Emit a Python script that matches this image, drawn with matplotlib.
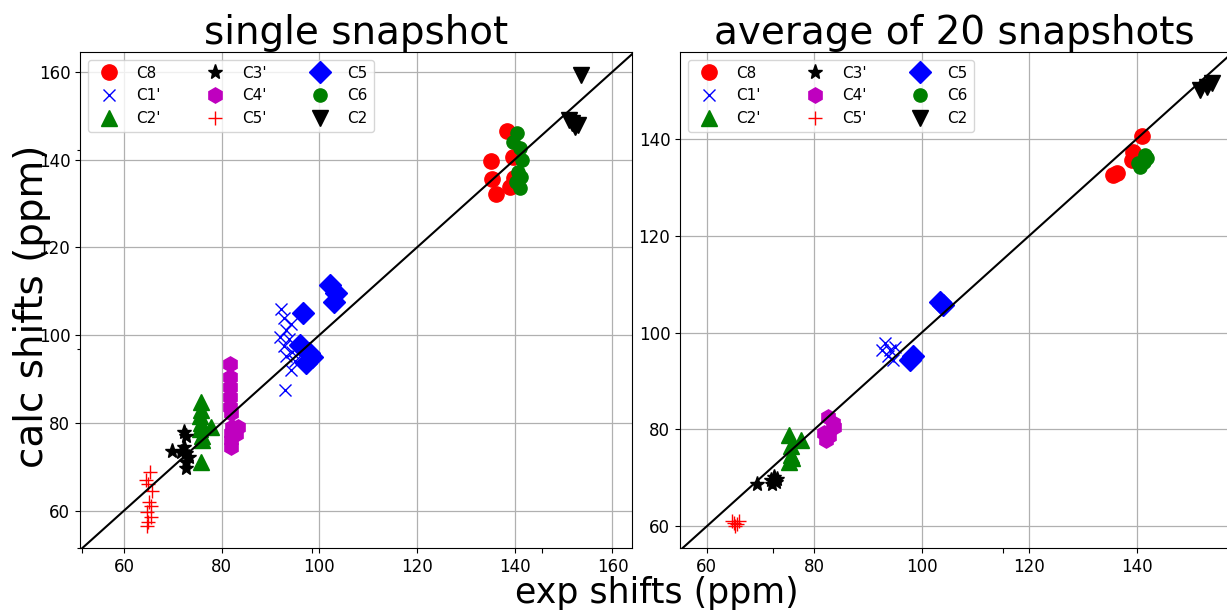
import numpy as np
import matplotlib.pyplot as plt

labels = ["C8", "C1'", "C2'", "C3'", "C4'", "C5'", "C5", "C6", "C2"]
markers = ['o', 'x', '^', '*', 'h', '+', 'D', 'o', 'v']
colors = ['r', 'b', 'g', 'k', 'm', 'r', 'b', 'g', 'k']
sizes = [11, 9, 11, 11, 11, 10, 11, 9.5, 11]

# single snapshot: experimental / calculated shifts (ppm)
c8_exp_1 = [138.4, 135.1, 135.3, 136.1, 139.0, 139.8, 139.6]
c8_calc_1 = [146.6, 139.7, 135.6, 132.2, 133.8, 135.9, 140.6]
c1p_exp_1 = [92.2, 92.7, 94.1, 93.1, 92.0, 93.7, 92.7, 94.3, 93.1, 95.1, 94.1, 92.9]
c1p_calc_1 = [106.0, 104.0, 102.6, 101.2, 99.6, 99.0, 97.6, 96.2, 95.3, 94.0, 92.1, 87.6]
c2p_exp_1 = [75.7, 75.7, 75.5, 75.7, 75.5, 75.9, 77.8, 75.7, 76.0]
c2p_calc_1 = [84.8, 83.0, 81.5, 80.0, 78.5, 77.0, 79.0, 71.0, 76.0]
c3p_exp_1 = [72.2, 72.7, 69.8, 72.2, 72.7, 73.3, 72.7, 72.7, 71.6]
c3p_calc_1 = [78.0, 76.9, 73.7, 74.6, 73.2, 72.3, 71.2, 69.8, 73.4]
c4p_exp_1 = [81.8, 81.8, 81.8, 81.8, 81.8, 82.0, 82.1, 83.3, 82.0, 83.0, 82.0, 81.9]
c4p_calc_1 = [93.3, 90.5, 88.2, 86.0, 83.7, 82.3, 79.1, 79.0, 77.8, 77.5, 76.2, 74.6]
c5p_exp_1 = [65.3, 64.5, 65.0, 65.8, 65.2, 65.6, 64.8, 65.6, 65.0, 64.7]
c5p_calc_1 = [68.9, 67.0, 66.0, 64.5, 62.0, 61.0, 59.8, 58.6, 57.5, 56.4]
c5_exp_1 = [102.2, 103.5, 102.9, 96.7, 96.1, 97.8, 97.3, 98.4]
c5_calc_1 = [111.5, 109.7, 107.6, 105.1, 97.8, 96.0, 93.7, 95.1]
c6_exp_1 = [140.4, 139.6, 141.0, 141.4, 140.6, 141.2, 141.0, 140.2]
c6_calc_1 = [146.1, 144.0, 142.7, 140.0, 137.2, 136.1, 133.6, 134.9]
c2_exp_1 = [151.0, 151.8, 152.9, 152.4, 153.5]
c2_calc_1 = [149.1, 148.4, 147.9, 147.5, 159.3]

# average of 20 snapshots
c8_exp_20 = [141.1, 139.4, 139.2, 135.7, 136.4]
c8_calc_20 = [140.6, 137.3, 135.7, 132.6, 133.0]
c1p_exp_20 = [93.2, 94.1, 95.0, 93.7, 94.7, 92.6]
c1p_calc_20 = [97.9, 96.5, 97.1, 95.1, 94.4, 96.5]
c2p_exp_20 = [75.3, 77.5, 75.6, 75.6, 75.3, 75.9]
c2p_calc_20 = [78.9, 77.9, 76.5, 74.7, 73.3, 74.0]
c3p_exp_20 = [69.4, 72.5, 72.2, 73.1, 71.9, 72.8]
c3p_calc_20 = [68.8, 70.2, 68.8, 69.8, 69.5, 69.1]
c4p_exp_20 = [82.5, 83.4, 81.9, 82.2, 83.75, 82.8]
c4p_calc_20 = [82.5, 81.4, 79.3, 77.9, 80.4, 78.6]
c5p_exp_20 = [65.0, 65.6, 64.7, 65.3, 65.9]
c5p_calc_20 = [60.7, 60.4, 61.1, 60.0, 61.1]
c5_exp_20 = [103.4, 104.0, 97.8, 98.4]
c5_calc_20 = [106.4, 105.8, 94.4, 95.1]
c6_exp_20 = [141.6, 140.7, 141.3, 142.0, 140.3]
c6_calc_20 = [136.7, 134.2, 135.3, 136.1, 135.1]
c2_exp_20 = [151.9, 153.2, 154.1]
c2_calc_20 = [150.1, 150.7, 151.5]

single = [(c8_exp_1, c8_calc_1), (c1p_exp_1, c1p_calc_1), (c2p_exp_1, c2p_calc_1),
          (c3p_exp_1, c3p_calc_1), (c4p_exp_1, c4p_calc_1), (c5p_exp_1, c5p_calc_1),
          (c5_exp_1, c5_calc_1), (c6_exp_1, c6_calc_1), (c2_exp_1, c2_calc_1)]
avg20 = [(c8_exp_20, c8_calc_20), (c1p_exp_20, c1p_calc_20), (c2p_exp_20, c2p_calc_20),
         (c3p_exp_20, c3p_calc_20), (c4p_exp_20, c4p_calc_20), (c5p_exp_20, c5p_calc_20),
         (c5_exp_20, c5_calc_20), (c6_exp_20, c6_calc_20), (c2_exp_20, c2_calc_20)]

ticks = [60, 80, 100, 120, 140, 160]

fig = plt.figure(figsize=(12.27, 6.12), dpi=100)

# big frameless axes behind the panels (its tick marks still show, as in the original)
big = fig.add_axes([0.0668, 0.1046, 0.938, 1.626], frameon=False)
big.set_xticks(np.arange(0, 1.01, 0.2))
big.set_yticks(np.arange(0, 1.01, 0.2))
big.set_xlim(0, 1)
big.set_ylim(0, 1)
big.tick_params(labelbottom=False, labelleft=False)

ax1 = fig.add_axes([0.0652, 0.1046, 0.4499, 0.8105])
ax2 = fig.add_axes([0.5542, 0.1046, 0.4465, 0.8105])

panels = [(ax1, single, 'single snapshot', (51, 164), (51.5, 164.5)),
          (ax2, avg20, 'average of 20 snapshots', (55, 157), (55.5, 158))]

for ax, data, title, xl, yl in panels:
    ax.grid(True, color='#b0b0b0', lw=0.9)
    ax.set_axisbelow(True)
    for (ex, ca), lab, mk, col, ms in zip(data, labels, markers, colors, sizes):
        ax.plot(ex, ca, linestyle='none', marker=mk, color=col, ms=ms, label=lab)
    ax.plot([0, 200], [0, 200], 'k-', lw=1.5)
    ax.set_xticks(ticks)
    ax.set_yticks(ticks)
    ax.set_xlim(*xl)
    ax.set_ylim(*yl)
    ax.tick_params(labelsize=12)
    ax.set_title(title, fontsize=28)
    ax.legend(loc='upper left', ncol=3, fontsize=11, numpoints=1, columnspacing=2.5)

fig.text(0.535, 0.031, 'exp shifts (ppm)', fontsize=25, ha='center', va='center')
fig.text(0.026, 0.5, 'calc shifts (ppm)', fontsize=28, ha='center', va='center',
         rotation=90)

fig.savefig('out.png', dpi=100)
